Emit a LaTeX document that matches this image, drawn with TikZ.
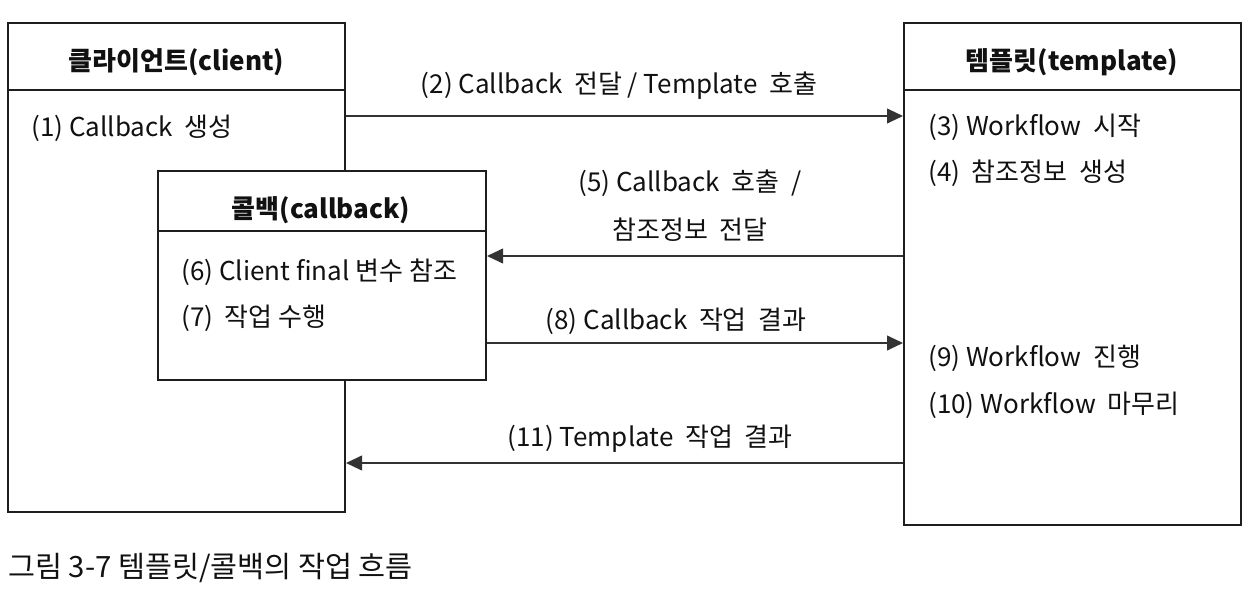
\documentclass[tikz,border=0pt]{standalone}
\usepackage{fontspec}
\setmainfont{Noto Sans CJK KR}
\usetikzlibrary{arrows.meta,calc}
\definecolor{lc}{HTML}{1E1E1E}
\definecolor{ac}{HTML}{333333}
\definecolor{tc}{HTML}{111111}
\begin{document}
\begin{tikzpicture}[x=0.75pt,y=-0.75pt,
  box/.style={draw=lc,line width=1.5pt,fill=white,inner sep=0pt,rectangle},
  sep/.style={draw=lc,line width=1.5pt},
  arr/.style={-{Triangle[length=12pt,width=11pt]},line width=1.5pt,draw=ac,color=ac},
  txt/.style={font=\fontsize{19.5}{23}\selectfont,text=tc,inner sep=0pt,anchor=west},
  lbl/.style={font=\fontsize{19.5}{23}\selectfont,text=tc,inner sep=0pt},
  hdr/.style={font=\bfseries\fontsize{19.5}{23}\selectfont,text=tc,inner sep=0pt},
  captxt/.style={font=\fontsize{22}{26}\selectfont,text=tc,inner sep=0pt,anchor=west}]
\useasboundingbox (0,0) rectangle (1248,591);
% client
\node[box,minimum width={337*0.75pt},minimum height={489*0.75pt}] (client) at (176.5,267.5) {};
\draw[sep] (client.west |- 0,90) -- (client.east |- 0,90);
\node[hdr] (clienth) at (176.5,62) {클라이언트(client)};
\node[txt] (s1) at (31,128) {(1) Callback\ \ 생성};
% template
\node[box,minimum width={337*0.75pt},minimum height={502*0.75pt}] (tmpl) at (1072.5,274) {};
\draw[sep] (tmpl.west |- 0,90) -- (tmpl.east |- 0,90);
\node[hdr] (tmplh) at (1072,62) {템플릿(template)};
\node[txt] (s3) at (928,127) {(3) Workflow\ \ 시작};
\node[txt] (s4) at (928,173) {(4)\ \ 참조정보\ \ 생성};
\node[txt] (s9) at (928,358) {(9) Workflow\ \ 진행};
\node[txt] (s10) at (928,405) {(10) Workflow\ \ 마무리};
% callback
\node[box,minimum width={328*0.75pt},minimum height={209*0.75pt}] (cb) at (322,275.5) {};
\draw[sep] (cb.west |- 0,231) -- (cb.east |- 0,231);
\node[hdr] (cbh) at (321,210) {콜백(callback)};
\node[txt] (s6) at (181,272) {(6) Client final 변수 참조};
\node[txt] (s7) at (181,318) {(7)\ \ 작업 수행};
% arrows
\draw[arr] (client.east |- 0,116) -- (tmpl.west |- 0,116);
\node[lbl] (l2) at (619,86) {(2) Callback\ \ 전달 / Template\ \ 호출};
\draw[arr] (tmpl.west |- 0,256) -- (cb.east |- 0,256);
\node[lbl] (l5a) at (690,183) {(5) Callback\ \ 호출\ \ /};
\node[lbl] (l5b) at (690,230) {참조정보\ \ 전달};
\draw[arr] (cb.east |- 0,343) -- (tmpl.west |- 0,343);
\node[lbl] (l8) at (676,321) {(8) Callback\ \ 작업\ \ 결과};
\draw[arr] (tmpl.west |- 0,463) -- (client.east |- 0,463);
\node[lbl] (l11) at (650,439) {(11) Template\ \ 작업\ \ 결과};
% caption
\node[captxt] (caption) at (8,568) {그림 3-7 템플릿/콜백의 작업 흐름};
\end{tikzpicture}
\end{document}
